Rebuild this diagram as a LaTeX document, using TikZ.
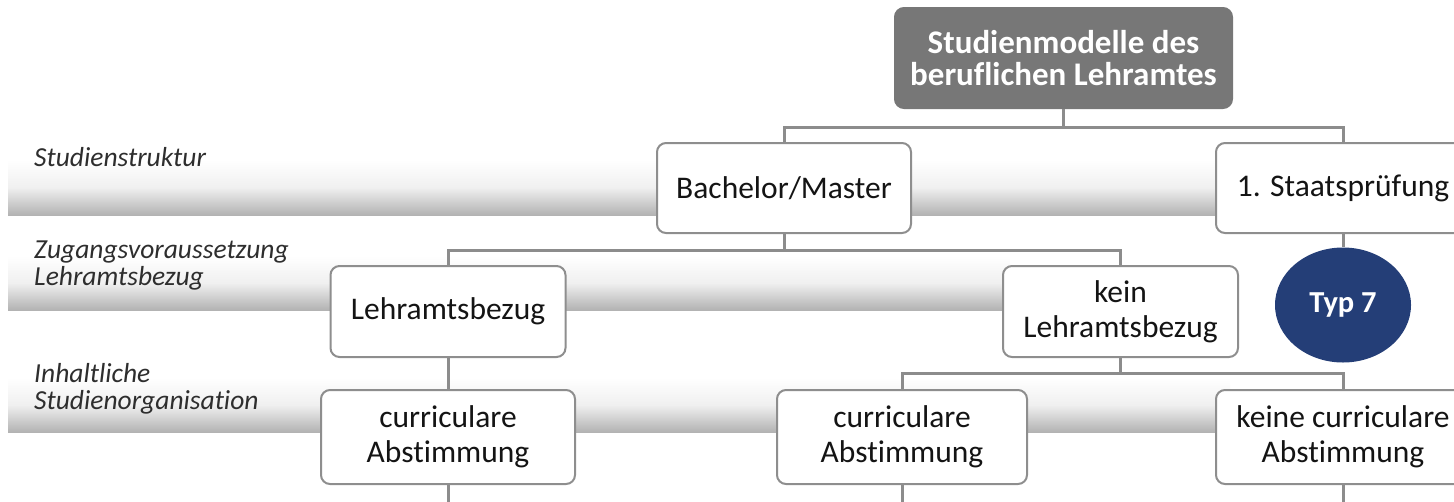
\documentclass[tikz,border=0pt]{standalone}
\usepackage{fontspec}
\setmainfont{Carlito}[Ligatures=NoCommon]
\usetikzlibrary{shapes.geometric}
\definecolor{boxline}{HTML}{8E8E8E}
\definecolor{conncol}{HTML}{8C8C8C}
\definecolor{topfill}{HTML}{777777}
\definecolor{navy}{HTML}{243E77}
\definecolor{labelcol}{HTML}{2E2E2E}
\definecolor{txt}{HTML}{141414}
\begin{document}
\begin{tikzpicture}[x=1pt,y=-1pt,
  box/.style={draw=boxline, line width=2pt, fill=white, rounded corners=9pt,
    align=center, text=txt, font=\fontsize{31.5}{35}\selectfont, inner sep=0pt},
  conn/.style={draw=conncol, line width=3pt},
  band/.style={top color=white, bottom color=black!30, middle color=black!6},
  lab/.style={font=\fontsize{27.5}{26.5}\selectfont\itshape, text=labelcol,
    align=left, inner sep=0pt, anchor=base west}]
\useasboundingbox (0,0) rectangle (1454,501);
\clip (0,0) rectangle (1454,501);
% bands
\shade[band] (8,160) rectangle (1454,215);
\shade[band] (8,256) rectangle (1010,310);
\shade[band] (8,378) rectangle (1230,432);
% labels
\node[lab] (l1) at (34,166) {Studienstruktur};
\node[lab] (l2) at (34,285) {Zugangsvoraussetzung\\Lehramtsbezug};
\node[lab] (l3) at (34,409) {Inhaltliche\\Studienorganisation};
% nodes
\node[box, fill=topfill, draw=topfill, text=white,
  font=\bfseries\fontsize{33}{32}\selectfont,
  minimum width=337pt, minimum height=100pt] (top) at (1063.5,58)
  {Studienmodelle des\\beruflichen Lehramtes};
\node[box, minimum width=254pt, minimum height=90pt] (bm) at (784,188) {Bachelor/Master};
\node[box, minimum width=254pt, minimum height=90pt] (sp) at (1343,188) {1. Staatsprüfung};
\node[box, minimum width=235pt, minimum height=91pt] (lb) at (448,311.5) {Lehramtsbezug};
\node[box, minimum width=235pt, minimum height=91pt] (kl) at (1120.5,311.5) {kein\\Lehramtsbezug};
\node[ellipse, fill=navy, text=white, minimum width=136pt, minimum height=115pt,
  inner sep=0pt, font=\bfseries\fontsize{30.5}{30}\selectfont] (typ) at (1343,305) {Typ 7};
\node[box, minimum width=254pt, minimum height=94pt] (c1) at (448,437) {curriculare\\Abstimmung};
\node[box, minimum width=250pt, minimum height=94pt] (c2) at (902,437) {curriculare\\Abstimmung};
\node[box, minimum width=254pt, minimum height=94pt] (c3) at (1343,437) {keine curriculare\\Abstimmung};
% connectors
\coordinate (j1) at (1063.5,127);
\coordinate (j2) at (784,250);
\coordinate (j3) at (1120.5,373);
\coordinate (e) at (0,510);
\draw[conn] (top.south) -- (j1);
\draw[conn] (bm.north) |- (j1) -| (sp.north);
\draw[conn] (bm.south) -- (j2);
\draw[conn] (lb.north) |- (j2) -| (kl.north);
\draw[conn] (sp.south) -- (typ.north);
\draw[conn] (lb.south) -- (c1.north);
\draw[conn] (kl.south) -- (j3);
\draw[conn] (c2.north) |- (j3) -| (c3.north);
\draw[conn] (c1.south) -- (c1.south |- e);
\draw[conn] (c2.south) -- (c2.south |- e);
\draw[conn] (c3.south) -- (c3.south |- e);
\end{tikzpicture}
\end{document}
